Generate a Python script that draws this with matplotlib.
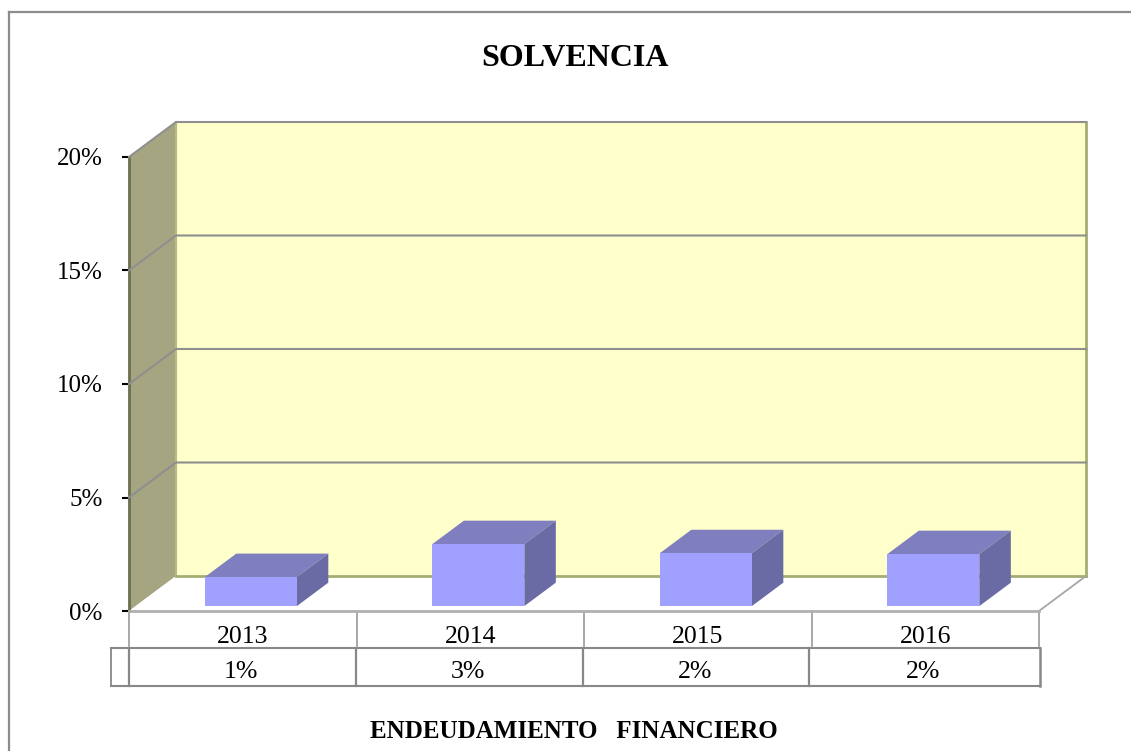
import matplotlib
matplotlib.use('Agg')
import matplotlib.pyplot as plt
from matplotlib.lines import Line2D
from matplotlib.patches import Polygon

years = ['2013', '2014', '2015', '2016']
values = [1.28, 2.73, 2.33, 2.29]
value_labels = ['1%', '3%', '2%', '2%']
y_ticks = [0, 5, 10, 15, 20]

W, H = 1131, 751
plt.rcParams['font.family'] = ['Liberation Serif', 'DejaVu Serif']

fig = plt.figure(figsize=(W / 100, H / 100), dpi=100)
# front plane of the 3D box: x 129-1039 px, y 611-157 px
ax = fig.add_axes([129 / W, 1 - 611 / H, 910 / W, 454 / H])
ax.set_xlim(0, 4)
ax.set_ylim(0, 20)
for s in ax.spines.values():
    s.set_visible(False)
ax.patch.set_alpha(0)

# depth of the box as offset in data units
DX = 47 / 227.5
DY = 35 / 22.7
PX = 20 / 454  # one pixel in y data units


def proj(x, y, d):
    """Move a point on the front plane back to depth d (0 front, 1 back)."""
    return (x + DX * d, y + DY * d)


def face(points, **kw):
    ax.add_patch(Polygon(points, closed=True, clip_on=False, **kw))


# walls and floor
face([proj(0, 0, 1), proj(4, 0, 1), proj(4, 20, 1), proj(0, 20, 1)],
     fc='#FFFFCC', ec='none', zorder=1)
face([proj(0, 0, 0), proj(0, 0, 1), proj(0, 20, 1), proj(0, 20, 0)],
     fc='#A5A582', ec='none', zorder=2)
face([proj(0, 0, 0), proj(4, 0, 0), proj(4, 0, 1), proj(0, 0, 1)],
     fc='white', ec='none', zorder=2)
ax.plot(*zip(proj(0, 0, 1), proj(0, 20, 1)), color='#B4BE7C', lw=1.5, zorder=3, clip_on=False)
ax.plot(*zip(proj(4, 0, 1), proj(4, 20, 1)), color='#A3AE72', lw=2, zorder=3, clip_on=False)
ax.plot(*zip(proj(0, 0, 1), proj(4, 0, 1)), color='#A3AE72', lw=2, zorder=3, clip_on=False)
ax.plot([0, 0], [0, 20], color='#6A6F50', lw=2, zorder=3, clip_on=False)
ax.plot(*zip(proj(4, 0, 0), proj(4, 0, 1)), color='#A6A6A6', lw=1.3, zorder=3, clip_on=False)

# gridlines run along side wall and back wall
for t in y_ticks[1:]:
    pts = [proj(0, t, 0), proj(0, t, 1), proj(4, t, 1)]
    ax.plot(*zip(*pts), color='#8F8F8F', lw=1.5, zorder=3, clip_on=False)

# bars
bar_w = 92 / 227.5
shift = 1.5 / 227.5
d0, d1 = 0.14, 0.81
for i, v in enumerate(values):
    x0 = i + 0.5 - bar_w / 2 + shift
    x1 = x0 + bar_w
    face([proj(x0, v, d0), proj(x1, v, d0), proj(x1, v, d1), proj(x0, v, d1)],
         fc='#7F7FBF', ec='none', zorder=5)
    face([proj(x1, 0, d0), proj(x1, 0, d1), proj(x1, v, d1), proj(x1, v, d0)],
         fc='#6A6AA4', ec='none', zorder=5)
    face([proj(x0, 0, d0), proj(x1, 0, d0), proj(x1, v, d0), proj(x0, v, d0)],
         fc='#A0A0FF', ec='none', zorder=6)

# y axis
ax.set_yticks(y_ticks)
ax.set_yticklabels([f'{t}%' for t in y_ticks], fontsize=18)
ax.tick_params(axis='y', length=5, width=1.5, color='black', pad=14)
ax.set_xticks([])

# data table under the chart
GRAY = '#9A9A9A'
GRAY2 = '#888888'
rows = [-35 * PX, -37 * PX, -75 * PX]
ax.plot([0, 4], [0, 0], color='#B0B0B0', lw=2, clip_on=False, zorder=4)
for i in range(5):
    ax.plot([i, i], [0, rows[0]], color=GRAY, lw=1.2, clip_on=False)
left = -18 / 227.5
for y in rows[1:]:
    ax.plot([left, 4 + 1 / 227.5], [y, y], color=GRAY2, lw=1.5, clip_on=False)
ax.plot([left, left], rows[1:], color=GRAY2, lw=1.3, clip_on=False)
ax.plot([4 + 1 / 227.5] * 2, rows[1:], color=GRAY2, lw=1.8, clip_on=False)
for i in range(4):
    ax.plot([i - 0.003 * i] * 2, rows[1:], color=GRAY2, lw=1.6, clip_on=False)
for i, (yr, lab) in enumerate(zip(years, value_labels)):
    ax.text(i + 0.5, -26 * PX, yr, ha='center', va='center', fontsize=18.5, clip_on=False)
    ax.text(i + 0.49, -61 * PX, lab, ha='center', va='center', fontsize=18.5, clip_on=False)

# outer frame runs off the right and bottom of the picture
for xs, ys in [((9 / W, 9 / W), (1 - 12 / H, 0)), ((9 / W, 1), (1 - 12 / H, 1 - 12 / H))]:
    fig.add_artist(Line2D(xs, ys, color='#8C8C8C', lw=1.6, transform=fig.transFigure))
fig.text(575 / W, 1 - 59 / H, 'SOLVENCIA', ha='center', va='center', fontsize=23, fontweight='bold')
fig.text(574 / W, 1 - 732 / H, 'ENDEUDAMIENTO   FINANCIERO', ha='center', va='center',
         fontsize=18, fontweight='bold')

fig.savefig('out.png', dpi=100, facecolor='white')
